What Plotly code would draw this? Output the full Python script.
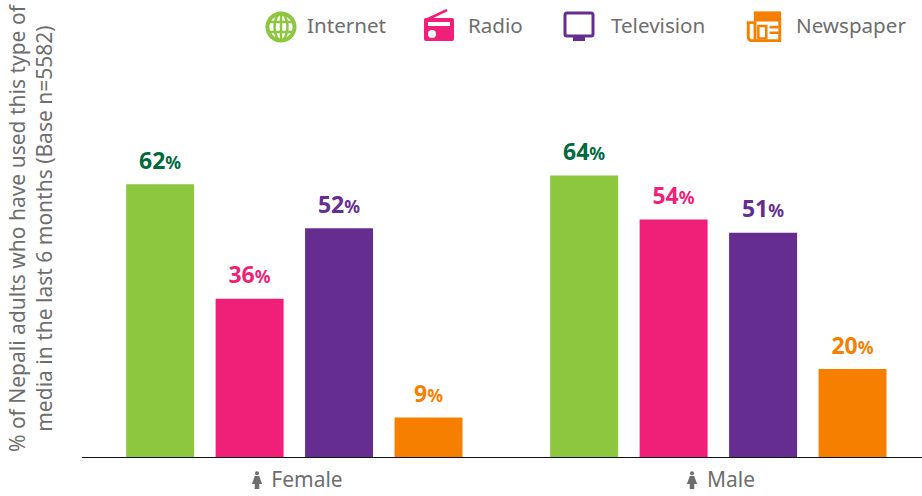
import base64
import plotly.graph_objects as go

WIDTH, HEIGHT = 922, 496
LEFT, BOTTOM = 82, 39  # plot area margins, px

genders = ["Female", "Male"]
media = ["Internet", "Radio", "Television", "Newspaper"]
internet = [62, 64]
radio = [36, 54]
television = [52, 51]
newspaper = [9, 20]
series = [internet, radio, television, newspaper]

bar_colors = ["#8dc63f", "#f01f78", "#652d90", "#f77f00"]
label_colors = ["#00693e", "#f01f78", "#652d90", "#f77f00"]
GREY = "#6e6e6e"
FONT = "Noto Sans"

# icons, drawn as small svgs on a 32x32 box
icons = {
    "Internet": '<circle cx="16" cy="16" r="13.5" fill="none" stroke="#8dc63f" stroke-width="4"/>'
                '<ellipse cx="16" cy="16" rx="6.5" ry="13.5" fill="none" stroke="#8dc63f" stroke-width="2.5"/>'
                '<path d="M16 2V30M3 11H29M3 21H29" stroke="#8dc63f" stroke-width="2.5"/>',
    "Radio": '<path d="M5 10L24 1" stroke="#f01f78" stroke-width="2.5"/>'
             '<rect x="1" y="9" width="30" height="23" rx="2" fill="#f01f78"/>'
             '<rect x="5" y="13" width="22" height="4" fill="#fff"/>'
             '<circle cx="9" cy="25" r="4" fill="#fff"/>',
    "Television": '<rect x="2" y="2" width="28" height="23" rx="2" fill="none" stroke="#652d90" stroke-width="3"/>'
                  '<rect x="10" y="25" width="12" height="5" fill="#652d90"/>',
    "Newspaper": '<path d="M8 5H30V29H5A3 3 0 0 1 2 26V13H8V29" fill="none" stroke="#f77f00" stroke-width="2.6"/>'
                 '<path d="M7 3H31V12H7Z" fill="#f77f00"/>'
                 '<path d="M11 16H18V27H11Z" fill="none" stroke="#f77f00" stroke-width="2.2"/>'
                 '<path d="M21 17H29M21 22H29" stroke="#f77f00" stroke-width="2.4"/>',
    "person": '<circle cx="16" cy="4" r="3.6" fill="#6e6e6e"/>'
              '<path d="M12 9H20L25 23H20V32H12V23H7Z" fill="#6e6e6e"/>',
}


def svg_uri(key):
    svg = f'<svg xmlns="http://www.w3.org/2000/svg" viewBox="0 0 32 32">{icons[key]}</svg>'
    return "data:image/svg+xml;base64," + base64.b64encode(svg.encode()).decode()


def icon(key, x, y, size):
    # x, y = top left corner in page pixels
    return dict(source=svg_uri(key), xref="paper", yref="paper",
                x=(x - LEFT) / (WIDTH - LEFT), y=(HEIGHT - BOTTOM - y) / (HEIGHT - BOTTOM),
                sizex=size / (WIDTH - LEFT), sizey=size / (HEIGHT - BOTTOM),
                xanchor="left", yanchor="top", sizing="contain", layer="above")


def page_note(text, x, y, **kw):
    return dict(text=text, xref="paper", yref="paper", showarrow=False,
                x=(x - LEFT) / (WIDTH - LEFT), y=(HEIGHT - BOTTOM - y) / (HEIGHT - BOTTOM), **kw)


fig = go.Figure()
for name, values, color, label_color in zip(media, series, bar_colors, label_colors):
    fig.add_trace(go.Bar(
        name=name, x=genders, y=values, marker_color=color, marker_line_width=0,
        # small base font + empty second line lifts the label off the bar
        text=[f"<b style='font-size:23px'>{v}</b><b style='font-size:17.5px'>%</b><br>\u00a0"
              for v in values],
        textposition="outside", cliponaxis=False,
        textfont=dict(color=label_color, size=8, family=FONT),
    ))

legend_text = [("Internet", 305), ("Radio", 466), ("Television", 609), ("Newspaper", 794)]
legend_icons = [("Internet", 265, 11, 32), ("Radio", 423, 9, 32),
                ("Television", 563, 11, 32), ("Newspaper", 746, 8, 36)]

annotations = [page_note(t, x, 25, xanchor="left", yanchor="middle",
                         font=dict(size=20.6, color=GREY, family=FONT))
               for t, x in legend_text]
annotations.append(page_note(
    "% of Nepali adults who have used this type of<br>media in the last 6 months (Base n=5582)",
    30, 228, textangle=-90, xanchor="center", yanchor="middle", align="center",
    font=dict(size=21, color=GREY, family=FONT)))

images = [icon(*i) for i in legend_icons]
images += [icon("person", 248, 471, 18), icon("person", 683, 471, 18)]

fig.update_layout(
    width=WIDTH, height=HEIGHT, autosize=False,
    margin=dict(l=LEFT, r=0, t=0, b=BOTTOM),
    paper_bgcolor="white", plot_bgcolor="white",
    barmode="group", bargap=0.156, bargroupgap=0.24,
    showlegend=False, annotations=annotations, images=images,
    font=dict(family=FONT, color=GREY),
)
fig.update_xaxes(
    range=[-0.5008, 1.4803], showgrid=False, showline=True, linecolor="#111111", linewidth=1,
    ticks="", ticklabelstandoff=4, tickmode="array", tickvals=genders,
    ticktext=["\u00a0\u00a0\u00a0\u00a0\u2009Female", "\u00a0\u00a0\u00a0\u00a0\u2009Male"],
    tickfont=dict(size=21, color=GREY, family=FONT),
)
fig.update_yaxes(range=[0, 103.9], visible=False)

# the default body margin would push the figure 8px down and right
fig.write_html("out.html", config={"displayModeBar": False},
               post_script="document.body.style.margin='0';")
